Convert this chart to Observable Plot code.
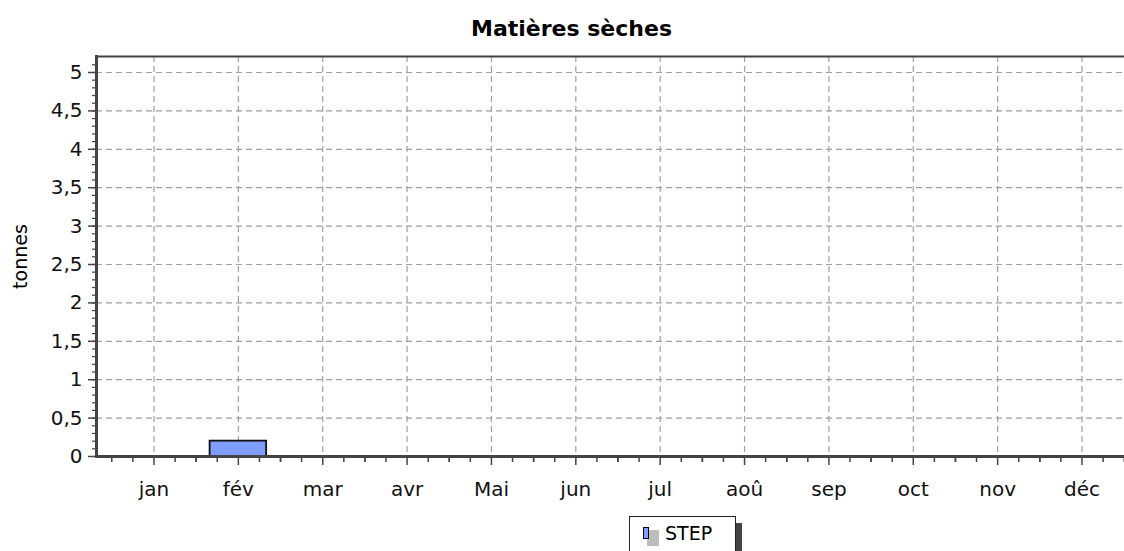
<!DOCTYPE html>
<html>
<head>
<meta charset="utf-8">
<script src="https://cdn.jsdelivr.net/npm/d3@7"></script>
<script src="https://cdn.jsdelivr.net/npm/@observablehq/plot@0.6"></script>
<style>
  html, body { margin: 0; padding: 0; background: #fff; }
  #wrap { position: relative; width: 1124px; height: 551px; overflow: hidden; font-family: "DejaVu Sans", Verdana, sans-serif; }
  #chart { position: absolute; left: 0; top: 0; }
  #title { position: absolute; left: 0; width: 1143px; top: 18px; line-height: 22px; text-align: center; font-weight: bold; font-size: 22px; color: #000; }
  #legend { position: absolute; left: 629px; top: 516px; width: 105px; height: 50px; border: 1px solid #222; background: #fff; box-shadow: 6px 7px 0 #444; font-size: 19px; }
  #legend .sh { position: absolute; left: 17px; top: 13px; width: 12px; height: 16px; background: #bdbdbd; }
  #legend .sw { position: absolute; left: 13px; top: 10px; width: 4px; height: 10px; background: #7f9cff; border: 1px solid #000; }
  #legend .lb { position: absolute; left: 35px; top: 7px; line-height: 19px; color: #000; }
</style>
</head>
<body>
<div id="wrap">
  <div id="chart"></div>
  <div id="title">Matières sèches</div>
  <div id="legend"><div class="sh"></div><div class="sw"></div><div class="lb">STEP</div></div>
</div>
<script>
const months = ["jan","fév","mar","avr","Mai","jun","jul","aoû","sep","oct","nov","déc"];
const stepValues = [0, 0.2, 0, 0, 0, 0, 0, 0, 0, 0, 0, 0];
const yTicks = [0, 0.5, 1, 1.5, 2, 2.5, 3, 3.5, 4, 4.5, 5];
const yMinorTicks = d3.range(0, 52).map(i => i / 10);
const seriesName = "STEP";
const yLabel = "tonnes";

const data = months.map((m, i) => ({month: m, value: stepValues[i], series: seriesName}));
const fmt = v => String(v).replace(".", ",");
const gridH = {stroke: "#a0a0a0", strokeOpacity: 1, strokeDasharray: "6,4", strokeWidth: 1.2};
const gridV = {stroke: "#a0a0a0", strokeOpacity: 1, strokeDasharray: "6,4", strokeWidth: 1.2};
const axisCol = "#444";
// minor x ticks at quarter-month subdivisions (offsets from each month's tick)
const minorX = dx => Plot.axisX({tickSize: 6, tickFormat: () => "", dx, stroke: axisCol, strokeWidth: 1.5});

const chart = Plot.plot({
  width: 1124,
  height: 551,
  marginTop: 56,
  marginBottom: 95,
  marginLeft: 96,
  marginRight: 0,
  style: {fontFamily: "DejaVu Sans, Verdana, sans-serif", fontSize: "20px", color: "#111", background: "transparent", overflow: "hidden"},
  x: {domain: months, range: [96, 1139], paddingInner: 0.33, paddingOuter: 0.3465, round: false, label: null},
  y: {domain: [0, 5.2083], label: null},
  marks: [
    Plot.gridY(yTicks, gridH),
    Plot.gridX(months, gridV),
    Plot.barY(data.filter(d => d.value > 0), {x: "month", y: "value", fill: "#7f9cff", stroke: "#111", strokeWidth: 1.8}),
    Plot.axisY(yMinorTicks, {tickSize: 4, tickFormat: () => "", stroke: axisCol, strokeWidth: 1.2}),
    Plot.axisY(yTicks, {tickFormat: fmt, tickSize: 8, tickPadding: 6, fontSize: 20, stroke: axisCol, strokeWidth: 1.5}),
    minorX(-42.22), minorX(-21.11), minorX(21.11), minorX(42.22),
    Plot.axisX({tickSize: 9, tickPadding: 16, fontSize: 20, stroke: axisCol, strokeWidth: 1.5}),
    Plot.text([yLabel], {frameAnchor: "left", textAnchor: "middle", dx: -76, rotate: -90, fontSize: 19, fill: "#000", style: "letter-spacing: 1px"}),
    Plot.frame({anchor: "left", stroke: axisCol, strokeWidth: 3}),
    Plot.frame({anchor: "top", stroke: axisCol, strokeWidth: 2}),
    Plot.ruleY([0], {stroke: axisCol, strokeWidth: 3})
  ]
});

document.getElementById("chart").appendChild(chart);
</script>
</body>
</html>
